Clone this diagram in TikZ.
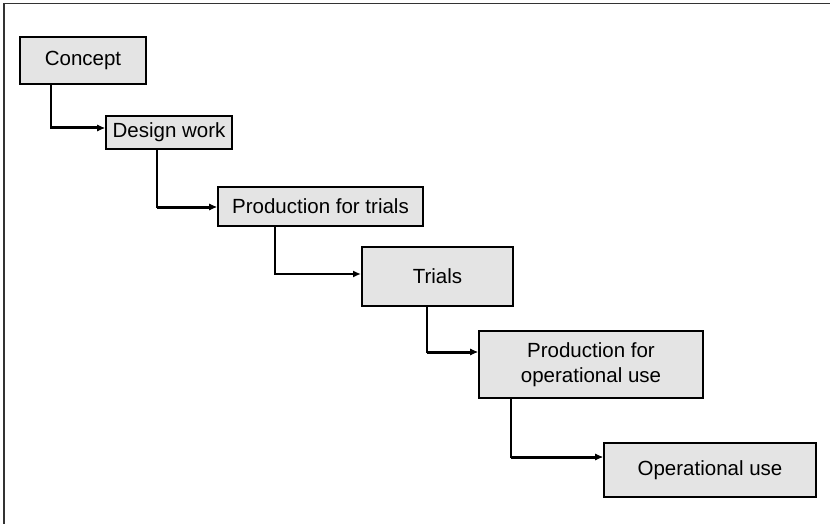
\documentclass[tikz,border=0pt]{standalone}
\usepackage{fontspec}
\setmainfont{Liberation Sans}
\usetikzlibrary{arrows.meta,positioning}
\definecolor{boxgrey}{HTML}{E4E4E4}

\begin{document}
\begin{tikzpicture}[x=1pt,y=-1pt,
  stage/.style={draw=black,line width=2pt,fill=boxgrey,inner sep=0pt,
    align=center,font=\fontsize{20.5}{25}\selectfont},
  flow/.style={line width=2pt,-{Latex[length=8pt,width=7pt]}},
  heavy/.style={flow,line width=3pt}]
\useasboundingbox (0,0) rectangle (830,524);
% frame
\draw[line width=1.6pt,black!80] (4,524) -- (4,3.5) -- (830,3.5);

\node[stage,minimum width=126pt,minimum height=47pt] (concept) at (83,60.5) {Concept};
\node[stage,minimum width=126pt,minimum height=33pt] (design) at (169,132.5) {Design work};
\node[stage,minimum width=205pt,minimum height=39pt] (trialprod) at (320.5,206.5) {Production for trials};
\node[stage,minimum width=151pt,minimum height=59pt] (trials) at (437.5,276.5) {Trials};
\node[stage,minimum width=224pt,minimum height=67pt] (opprod) at (591,364.5) {Production for\\operational use};
\node[stage,minimum width=212pt,minimum height=54pt] (opuse) at (710,470) {Operational use};

% stage to stage (thin drop, heavier run into the next box)
\draw[flow] ([xshift=32pt]concept.south west) |- coordinate (k1) ([yshift=4.5pt]design.west);
\draw[heavy] (k1) -- ([yshift=4.5pt]design.west);
\draw[flow] ([xshift=52pt]design.south west) |- coordinate (k2) ([yshift=-0.5pt]trialprod.west);
\draw[heavy] (k2) -- ([yshift=-0.5pt]trialprod.west);
\draw[flow] ([xshift=58pt]trialprod.south west) |- ([yshift=2.5pt]trials.west);
\draw[flow] ([xshift=66pt]trials.south west) |- coordinate (k4) ([yshift=12.5pt]opprod.west);
\draw[heavy] (k4) -- ([yshift=12.5pt]opprod.west);
\draw[flow] ([xshift=33pt]opprod.south west) |- coordinate (k5) ([yshift=13pt]opuse.west);
\draw[heavy] (k5) -- ([yshift=13pt]opuse.west);
\end{tikzpicture}
\end{document}
